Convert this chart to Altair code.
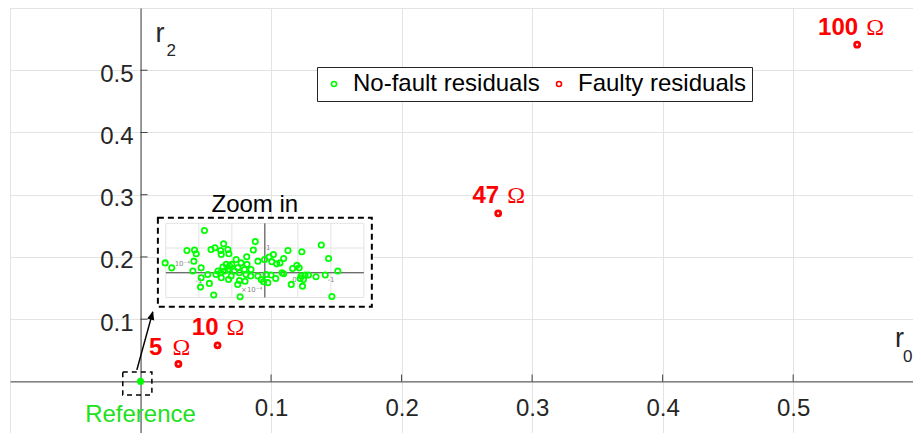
import altair as alt
import pandas as pd

# ---------------- data ----------------
FAULT_LABELS = ["5", "10", "47", "100"]
FAULT_R0 = [0.029, 0.059, 0.274, 0.549]
FAULT_R2 = [0.028, 0.058, 0.270, 0.541]

LEGEND_NAMES = ["No-fault residuals", "Faulty residuals"]

# no-fault residuals shown in the zoomed inset (inset units)
INSET_U = [-1.83, -3.02, -2.82, -2.36, -2.13, -2.08, -2.15, -2.18, -1.93, -1.93,
           -1.95, -1.68, -1.55, -1.73, -1.63, -1.51, -1.25, -1.34, -1.12, -1.32,
           -1.09, -0.29, -0.35, -0.55, -0.54, -0.72, -0.82, -1.00, -1.17, -1.12,
           -1.07, -1.22, -1.34, -1.42, -1.48, -1.32, -1.10, -1.02, -0.92, -0.77,
           -0.62, -0.57, -0.77, -0.60, -0.82, -0.75, -0.43, -0.42, -0.21, -0.21,
           -0.11, -0.01, 0.04, -0.87, -1.27,
           1.71, 1.12, 0.70, 0.26, 0.13, 0.21, 0.36, 0.46, 0.57, 1.93,
           0.97, 1.04, 0.84, 2.21, 0.52, 0.57, 0.19, 0.33, 1.10, 1.22,
           1.32, 1.55, 1.83, 1.07, 1.17, 0.09, -0.04, 0.80, 1.14, 2.03]
INSET_V = [1.71, 0.40, 0.20, 0.90, 0.92, 0.77, 0.47, 0.07, 0.20, -0.20,
           -0.58, -0.43, -0.90, -0.07, 0.94, 1.01, 1.17, 0.90, 0.94, 0.74,
           0.77, 1.26, 0.92, 0.65, 0.34, 0.40, 0.20, 0.34, 0.34, 0.13,
           0.27, 0.07, 0.00, 0.07, -0.07, -0.20, -0.27, -0.13, 0.07, 0.00,
           0.13, -0.07, -0.31, -0.34, -0.47, -0.97, -0.13, 0.13, 0.47, -0.13,
           -0.27, 0.54, -0.07, 0.54, 0.23,
           1.12, 0.85, 0.90, 0.74, 0.64, 0.45, 0.36, 0.40, 0.58, 0.58,
           0.30, 0.20, 0.17, 0.07, 0.00, -0.04, -0.09, -0.23, -0.13, -0.09,
           -0.09, -0.16, -0.09, -0.23, -0.27, -0.40, -0.36, -0.47, -0.54, -0.96]

INSET_GRID_U = [-3, -2, -1, 0, 1, 2, 3]
INSET_GRID_V = [-1, 0, 1, 2]
INSET_TXT = ["10\u207b\u2074", "1", "-1", "0", "-1", "\u00d710\u207b\u2074"]
INSET_TXT_U = [-2.5, 0.1, -2.0, 0.9, 2.0, -0.4]
INSET_TXT_V = [0.35, 1.0, -0.35, -0.3, -0.3, -0.7]

TICKS = [0.1, 0.2, 0.3, 0.4, 0.5]
GRID = [-0.1, 0.0, 0.1, 0.2, 0.3, 0.4, 0.5, 0.6]

# annotation geometry (main data units)
ZOOM_BOX = {"x": [0.0133], "x2": [0.1772], "y": [0.2630], "y2": [0.1199]}
REF_BOX = {"x": [-0.0136], "x2": [0.0087], "y": [0.0153], "y2": [-0.0217]}
ARROW = {"x": [-0.0028], "y": [0.0185], "x2": [0.0094], "y2": [0.1118]}

# inset placement inside the zoom box
IX0, IXS = 0.09525, 0.02529
IY0, IYS = 0.17455, 0.03974

XDOM = [-0.1, 0.5918]
YDOM = [-0.0829, 0.6]
W, H = 903, 425

x0px = W * (0 - XDOM[0]) / (XDOM[1] - XDOM[0])
y0px = H * (YDOM[1] - 0) / (YDOM[1] - YDOM[0])

FONT = "Liberation Sans"
AXC = "#404040"
GRIDC = "#e3e3e3"
GREEN = "#00ff00"
RED = "#ff0000"

XAXIS = alt.Axis(values=GRID, grid=True, gridColor=GRIDC, gridWidth=1,
                 domain=True, domainColor=AXC, domainWidth=1, ticks=False,
                 labelExpr="(datum.value > 0.05 && datum.value < 0.55) ? format(datum.value, '.1f') : ''",
                 labelFont=FONT, labelFontSize=24, labelColor="#262626",
                 labelPadding=15, labelFlush=False, labelOverlap=False,
                 offset=-(H - y0px), orient="bottom", title=None)
YAXIS = alt.Axis(values=GRID, grid=True, gridColor=GRIDC, gridWidth=1,
                 domain=True, domainColor=AXC, domainWidth=1, ticks=False,
                 labelExpr="(datum.value > 0.05 && datum.value < 0.55) ? format(datum.value, '.1f') : ''",
                 labelFont=FONT, labelFontSize=24, labelColor="#262626",
                 labelPadding=7.5, labelOffset=4, labelFlush=False, labelOverlap=False,
                 offset=-x0px, orient="left", title=None)


def X(f):
    return alt.X(f, type="quantitative", scale=alt.Scale(domain=XDOM, nice=False, zero=False), axis=XAXIS)


def Y(f):
    return alt.Y(f, type="quantitative", scale=alt.Scale(domain=YDOM, nice=False, zero=False), axis=YAXIS)


fault = pd.DataFrame({"label": FAULT_LABELS, "x": FAULT_R0, "y": FAULT_R2, "type": LEGEND_NAMES[1]})
inset = pd.DataFrame({"u": INSET_U, "v": INSET_V, "type": LEGEND_NAMES[0]})
gu = pd.DataFrame({"u": INSET_GRID_U})
gv = pd.DataFrame({"v": INSET_GRID_V})
itxt = pd.DataFrame({"t": INSET_TXT, "u": INSET_TXT_U, "v": INSET_TXT_V})
ticks = pd.DataFrame({"t": TICKS, "zero": [0.0] * len(TICKS)})
origin = pd.DataFrame({"x": [0.0], "y": [0.0]})

umin, umax = min(INSET_GRID_U), max(INSET_GRID_U)
vmin, vmax = min(INSET_GRID_V), max(INSET_GRID_V)

color = alt.Color("type:N", scale=alt.Scale(domain=LEGEND_NAMES, range=[GREEN, RED]),
                  legend=alt.Legend(title=None, orient="none", legendX=307, legendY=59,
                                    direction="horizontal", fillColor="white",
                                    strokeColor="#262626", padding=5, gridAlign="none",
                                    symbolType="circle", symbolSize=25, symbolStrokeWidth=1.6,
                                    symbolOffset=0, labelFont=FONT, labelFontSize=24,
                                    labelColor="black", labelOffset=7, columnPadding=7,
                                    labelLimit=400))

# zoom box (white background, dashed border)
zoom_box = alt.Chart(pd.DataFrame(ZOOM_BOX)).mark_rect(
    fill="white", stroke="black", strokeWidth=2, strokeDash=[6, 4]
).encode(x=X("x"), x2="x2:Q", y=Y("y"), y2="y2:Q")

inset_vgrid = alt.Chart(gu).transform_calculate(
    x=f"datum.u*{IXS}+{IX0}", ya=f"{vmin}*{IYS}+{IY0}", yb=f"{vmax}*{IYS}+{IY0}"
).mark_rule(color=GRIDC, strokeWidth=1).encode(x=X("x"), y=Y("ya"), y2="yb:Q")

inset_hgrid = alt.Chart(gv).transform_calculate(
    y=f"datum.v*{IYS}+{IY0}", xa=f"{umin}*{IXS}+{IX0}", xb=f"{umax}*{IXS}+{IX0}"
).mark_rule(color=GRIDC, strokeWidth=1).encode(y=Y("y"), x=X("xa"), x2="xb:Q")

inset_xaxis = alt.Chart(gv).transform_filter("datum.v == 0").transform_calculate(
    y=f"datum.v*{IYS}+{IY0}", xa=f"{umin}*{IXS}+{IX0}", xb=f"{umax}*{IXS}+{IX0}"
).mark_rule(color=AXC, strokeWidth=1).encode(y=Y("y"), x=X("xa"), x2="xb:Q")

inset_yaxis = alt.Chart(gu).transform_filter("datum.u == 0").transform_calculate(
    x=f"datum.u*{IXS}+{IX0}", ya=f"{vmin}*{IYS}+{IY0}", yb=f"{vmax}*{IYS}+{IY0}"
).mark_rule(color=AXC, strokeWidth=1).encode(x=X("x"), y=Y("ya"), y2="yb:Q")

inset_text = alt.Chart(itxt).transform_calculate(
    x=f"datum.u*{IXS}+{IX0}", y=f"datum.v*{IYS}+{IY0}"
).mark_text(font="DejaVu Sans", fontSize=7, color="#888888").encode(x=X("x"), y=Y("y"), text="t:N")

inset_pts = alt.Chart(inset).transform_calculate(
    x=f"datum.u*{IXS}+{IX0}", y=f"datum.v*{IYS}+{IY0}"
).mark_point(filled=False, size=28, strokeWidth=1.8, opacity=1).encode(x=X("x"), y=Y("y"), color=color)

ref_box = alt.Chart(pd.DataFrame(REF_BOX)).mark_rect(
    fillOpacity=0, stroke="black", strokeWidth=1.5, strokeDash=[5, 4]
).encode(x=X("x"), x2="x2:Q", y=Y("y"), y2="y2:Q")

arrow_line = alt.Chart(pd.DataFrame(ARROW)).mark_rule(color="black", strokeWidth=1.5).encode(
    x=X("x"), y=Y("y"), x2="x2:Q", y2="y2:Q")
arrow_head = alt.Chart(pd.DataFrame(ARROW)).mark_point(
    shape="M0,-0.2L-0.9,2L0.9,2Z", filled=True, size=64, angle=15, color="black", opacity=1
).encode(x=X("x2"), y=Y("y2"))

ref_pt = alt.Chart(origin).mark_point(filled=True, size=50, color=GREEN, opacity=1).encode(
    x=X("x"), y=Y("y"))

fault_pts = alt.Chart(fault).mark_point(filled=False, size=25, strokeWidth=2.8, opacity=1).encode(
    x=X("x"), y=Y("y"), color=color)

num_main = alt.Chart(fault).transform_filter("datum.label != '5'").mark_text(
    font=FONT, fontSize=24, fontWeight="bold", color=RED, align="right", baseline="alphabetic",
    dx=1, dy=-10).encode(x=X("x"), y=Y("y"), text="label:N")
om_main = alt.Chart(fault).transform_filter("datum.label != '5'").mark_text(
    font="Liberation Serif", fontSize=24, color=RED, align="left", baseline="alphabetic",
    dx=9, dy=-10, text="\u03a9").encode(x=X("x"), y=Y("y"))
num_5 = alt.Chart(fault).transform_filter("datum.label == '5'").mark_text(
    font=FONT, fontSize=24, fontWeight="bold", color=RED, align="right", baseline="alphabetic",
    dx=-16, dy=-9).encode(x=X("x"), y=Y("y"), text="label:N")
om_5 = alt.Chart(fault).transform_filter("datum.label == '5'").mark_text(
    font="Liberation Serif", fontSize=24, color=RED, align="left", baseline="alphabetic",
    dx=-6, dy=-9, text="\u03a9").encode(x=X("x"), y=Y("y"))

ref_txt = alt.Chart(origin).mark_text(
    font=FONT, fontSize=24, color="#20e020", align="center", baseline="alphabetic", dy=41,
    text="Reference").encode(x=X("x"), y=Y("y"))

zoom_txt = alt.Chart(pd.DataFrame(ZOOM_BOX)).transform_calculate(
    xc="(datum.x+datum.x2)/2").mark_text(
    font=FONT, fontSize=24, color="black", align="center", baseline="alphabetic",
    dx=-10, dy=-6, text="Zoom in").encode(x=X("xc"), y=Y("y"))

corner = pd.DataFrame({"x0": [0.0], "ytop": [YDOM[1]], "xend": [XDOM[1]], "y0": [0.0]})
r2_r = alt.Chart(corner).mark_text(font=FONT, fontSize=27, color="#262626", align="left",
                                   baseline="alphabetic", dx=15, dy=34, text="r").encode(
    x=X("x0"), y=Y("ytop"))
r2_s = alt.Chart(corner).mark_text(font=FONT, fontSize=17, color="#262626", align="left",
                                   baseline="alphabetic", dx=26, dy=48, text="2").encode(
    x=X("x0"), y=Y("ytop"))
r0_r = alt.Chart(corner).mark_text(font=FONT, fontSize=27, color="#262626", align="left",
                                   baseline="alphabetic", dx=-18, dy=-34.5, text="r").encode(
    x=X("xend"), y=Y("y0"))
r0_s = alt.Chart(corner).mark_text(font=FONT, fontSize=17, color="#262626", align="left",
                                   baseline="alphabetic", dx=-10, dy=-19.5, text="0").encode(
    x=X("xend"), y=Y("y0"))

xticks = alt.Chart(ticks).mark_tick(orient="vertical", size=7, thickness=1, color=AXC,
                                    yOffset=-3.5, opacity=1).encode(x=X("t"), y=Y("zero"))
yticks = alt.Chart(ticks).mark_tick(orient="horizontal", size=7, thickness=1, color=AXC,
                                    xOffset=3.5, opacity=1).encode(x=X("zero"), y=Y("t"))

chart = alt.layer(
    zoom_box, inset_vgrid, inset_hgrid, inset_xaxis, inset_yaxis, inset_text, inset_pts,
    xticks, yticks, ref_box, arrow_line, arrow_head, ref_pt, fault_pts,
    num_main, om_main, num_5, om_5, ref_txt, zoom_txt, r2_r, r2_s, r0_r, r0_s
).properties(
    width=W, height=H, autosize=alt.AutoSizeParams(type="none"),
    padding={"left": 2, "top": 0, "right": 0, "bottom": 0}
).configure_view(strokeWidth=0).configure(background="white")

chart.save("out.html", embed_options={"renderer": "svg", "actions": False})
